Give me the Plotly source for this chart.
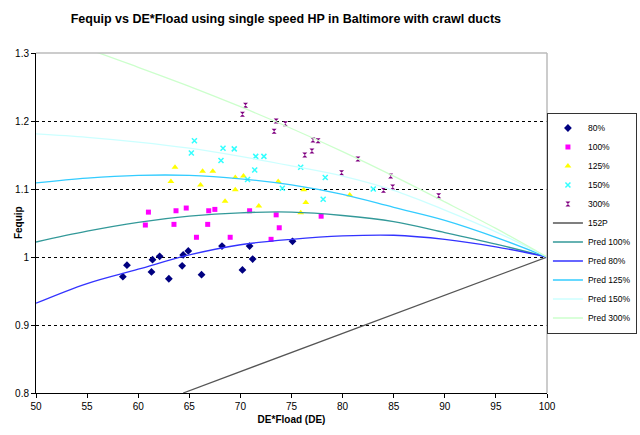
import plotly.graph_objects as go

# ---- data ----
x80 = [58.5, 58.9, 61.3, 61.4, 62.1, 63.0, 64.3, 64.4, 64.9, 66.2, 68.2, 70.2, 70.9, 71.2, 75.1]
y80 = [0.971, 0.988, 0.978, 0.996, 1.001, 0.968, 0.987, 1.003, 1.009, 0.974, 1.016, 0.981, 1.016, 0.997, 1.023]

x100 = [60.7, 61.0, 63.5, 63.7, 64.7, 65.7, 66.9, 67.5, 66.8, 69.0, 70.9, 73.0, 73.5, 73.8, 77.9]
y100 = [1.047, 1.066, 1.048, 1.068, 1.072, 1.029, 1.068, 1.070, 1.048, 1.029, 1.068, 1.026, 1.062, 1.043, 1.060]

x125 = [63.6, 63.2, 66.3, 66.1, 67.3, 69.5, 70.3, 69.5, 68.5, 71.8, 73.7, 75.9, 76.2, 76.4, 80.7]
y125 = [1.132, 1.111, 1.126, 1.106, 1.126, 1.117, 1.119, 1.099, 1.082, 1.075, 1.111, 1.065, 1.099, 1.080, 1.091]

x150 = [65.5, 65.2, 68.3, 69.4, 68.1, 71.5, 72.3, 71.4, 70.7, 74.1, 75.9, 78.3, 78.1, 83.0]
y150 = [1.171, 1.153, 1.160, 1.159, 1.142, 1.148, 1.148, 1.128, 1.114, 1.101, 1.132, 1.117, 1.085, 1.100]

x300 = [70.5, 70.2, 73.5, 74.4, 73.3, 77.1, 77.6, 77.0, 76.3, 81.5, 79.9, 84.7, 84.9, 84.0, 89.4]
y300 = [1.223, 1.210, 1.200, 1.196, 1.185, 1.172, 1.171, 1.156, 1.150, 1.144, 1.124, 1.119, 1.103, 1.098, 1.090]

x152p = [64.4, 100]
y152p = [0.800, 1.000]

x_pred = [50, 55, 60, 65, 70, 75, 80, 85, 90, 95, 100]
pred100 = [1.022, 1.038, 1.051, 1.060, 1.065, 1.066, 1.061, 1.052, 1.036, 1.019, 1.000]
pred80 = [0.932, 0.961, 0.982, 1.003, 1.018, 1.026, 1.031, 1.032, 1.026, 1.015, 1.000]
pred125 = [1.109, 1.116, 1.120, 1.120, 1.115, 1.106, 1.092, 1.073, 1.054, 1.029, 1.000]
pred150 = [1.181, 1.176, 1.169, 1.160, 1.148, 1.134, 1.119, 1.098, 1.069, 1.037, 1.000]
pred300 = [1.330, 1.306, 1.279, 1.251, 1.221, 1.189, 1.155, 1.119, 1.081, 1.042, 1.000]

FONT = "Liberation Sans, Arial, sans-serif"

fig = go.Figure()

def pts(x, y, name, symbol, color, size, line_w=0):
    fig.add_trace(go.Scatter(
        x=x, y=y, mode="markers", name=name,
        marker=dict(symbol=symbol, color=color, size=size,
                    line=dict(color=color, width=line_w))))

pts(x80, y80, "80%", "diamond", "#000080", 6)
pts(x100, y100, "100%", "square", "#FF00FF", 5)
pts(x125, y125, "125%", "triangle-up", "#FFFF00", 6)
pts(x150, y150, "150%", "x-thin", "#33FFFF", 5, 1.5)
pts(x300, y300, "300%", "hourglass", "#800080", 5)

def ln(x, y, name, color, shape="spline"):
    fig.add_trace(go.Scatter(
        x=x, y=y, mode="lines", name=name,
        line=dict(color=color, width=1.3, shape=shape)))

ln(x152p, y152p, "152P", "#555555", "linear")
ln(x_pred, pred100, "Pred 100%", "#339999")
ln(x_pred, pred80, "Pred 80%", "#3333FF")
ln(x_pred, pred125, "Pred 125%", "#33CCFF")
ln(x_pred, pred150, "Pred 150%", "#CCFFFF")
ln(x_pred, pred300, "Pred 300%", "#CCFFCC")

fig.update_layout(
    width=640, height=435,
    margin=dict(l=36, r=93, t=53, b=42, autoexpand=False),
    paper_bgcolor="white", plot_bgcolor="white",
    font=dict(family=FONT, size=10, color="black"),
    title=dict(text="<b>Fequip vs DE*Fload using single speed HP in Baltimore with crawl ducts</b>",
               xref="paper", x=0.489, xanchor="center", y=0.958, yanchor="middle",
               font=dict(family=FONT, size=12.5, color="black")),
    showlegend=True,
    legend=dict(x=1.176, xanchor="right", y=0.5, yanchor="middle",
                bordercolor="#333333", borderwidth=1, bgcolor="rgba(255,255,255,0)",
                font=dict(family=FONT, size=8.5, color="black"),
                itemwidth=30, tracegroupgap=0),
    annotations=[dict(text="<b>Fequip</b>", xref="paper", yref="paper",
                      x=-0.035, y=0.5, xanchor="center", yanchor="middle",
                      textangle=-90, showarrow=False,
                      font=dict(family=FONT, size=10, color="black"))],
)

fig.update_xaxes(
    range=[50, 100], tick0=50, dtick=5, showgrid=False, zeroline=False,
    showline=True, linecolor="black", linewidth=1,
    ticks="outside", ticklen=4, tickcolor="black",
    tickfont=dict(family=FONT, size=10),
    title=dict(text="<b>DE*Fload (DE)</b>", standoff=4,
               font=dict(family=FONT, size=10)),
)
fig.update_yaxes(
    range=[0.8, 1.3], tick0=0.8, dtick=0.1, zeroline=False,
    showgrid=True, gridcolor="black", griddash="dot", gridwidth=1,
    showline=True, linecolor="black", linewidth=1,
    ticks="outside", ticklen=4, tickcolor="black",
    tickfont=dict(family=FONT, size=10),
)

# plot-area border (top and right)
fig.add_shape(type="line", xref="paper", yref="paper", x0=0, x1=1, y0=1, y1=1,
              line=dict(color="#BBBBBB", width=1.5), layer="above")
fig.add_shape(type="line", xref="paper", yref="paper", x0=1, x1=1, y0=0, y1=1,
              line=dict(color="#BBBBBB", width=1.5), layer="above")

fig.write_html("out.html")
